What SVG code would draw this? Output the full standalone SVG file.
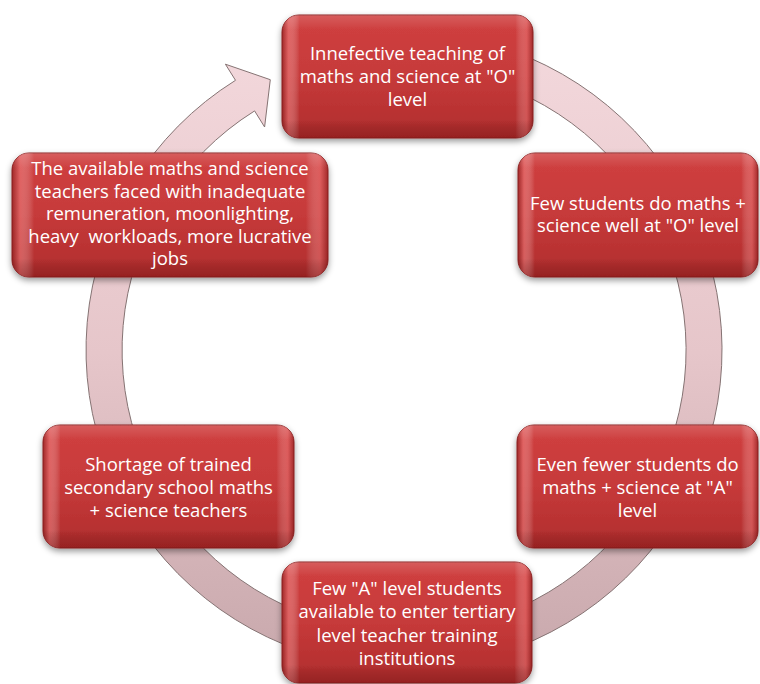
<svg xmlns="http://www.w3.org/2000/svg" width="760" height="684" viewBox="0 0 760 684">
<style>
  .box { fill: url(#boxFill); stroke: #8a2020; stroke-width: 1; filter: url(#shadow); }
  .gloss { fill: url(#boxGloss); stroke: none; }
  .top { fill: url(#boxTop); stroke: none; }
  .lbl { font-family: "Open Sans", "Liberation Sans", sans-serif; font-size: 18.5px; fill: #ffffff; text-anchor: middle; white-space: pre; }
  .ring { fill: url(#ringFill); stroke: #857373; stroke-width: 1; }
</style>
<defs>
  <linearGradient id="ringFill" x1="0" y1="0" x2="0" y2="1">
    <stop offset="0" stop-color="#f3d8dc"/>
    <stop offset="0.5" stop-color="#e6c6ca"/>
    <stop offset="1" stop-color="#c8a8ac"/>
  </linearGradient>
  <linearGradient id="boxFill" x1="0" y1="0" x2="0" y2="1">
    <stop offset="0" stop-color="#d04040"/>
    <stop offset="0.5" stop-color="#c63a3a"/>
    <stop offset="1" stop-color="#b02c2c"/>
  </linearGradient>
  <linearGradient id="boxGloss" x1="0" y1="0" x2="1" y2="0">
    <stop offset="0" stop-color="#7a1515" stop-opacity="0.5"/>
    <stop offset="0.025" stop-color="#f08080" stop-opacity="0.55"/>
    <stop offset="0.07" stop-color="#ffffff" stop-opacity="0"/>
    <stop offset="0.93" stop-color="#ffffff" stop-opacity="0"/>
    <stop offset="0.975" stop-color="#f08080" stop-opacity="0.45"/>
    <stop offset="1" stop-color="#7a1515" stop-opacity="0.5"/>
  </linearGradient>
  <linearGradient id="boxTop" x1="0" y1="0" x2="0" y2="1">
    <stop offset="0" stop-color="#ffffff" stop-opacity="0.15"/>
    <stop offset="0.12" stop-color="#ffffff" stop-opacity="0"/>
    <stop offset="0.85" stop-color="#000000" stop-opacity="0"/>
    <stop offset="1" stop-color="#500000" stop-opacity="0.25"/>
  </linearGradient>
  <filter id="shadow" x="-10%" y="-10%" width="120%" height="130%">
    <feDropShadow dx="0" dy="3" stdDeviation="3" flood-color="#000000" flood-opacity="0.4"/>
  </filter>
</defs>

<g id="connectors">
  <path class="ring" d="M 459.2 36.8 A 318 318 0 1 1 235.5 80.3 L 225.4 64.2 L 270.3 79.7 L 264.6 127.0 L 254.6 110.9 A 282 282 0 1 0 453.0 72.3 Z"/>
</g>

<g id="node1">
  <rect class="box" x="282" y="15" width="251" height="123" rx="17"/>
  <rect class="gloss" x="282" y="15" width="251" height="123" rx="17"/>
  <rect class="top" x="282" y="15" width="251" height="123" rx="17"/>
  <text class="lbl" x="407.5" y="60">Innefective teaching of</text>
  <text class="lbl" x="407.5" y="83">maths and science at "O"</text>
  <text class="lbl" x="407.5" y="106">level</text>
</g>

<g id="node2">
  <rect class="box" x="518" y="153" width="240" height="124" rx="17"/>
  <rect class="gloss" x="518" y="153" width="240" height="124" rx="17"/>
  <rect class="top" x="518" y="153" width="240" height="124" rx="17"/>
  <text class="lbl" x="638" y="210">Few students do maths +</text>
  <text class="lbl" x="638" y="232">science well at "O" level</text>
</g>

<g id="node3">
  <rect class="box" x="517" y="425" width="241" height="123" rx="17"/>
  <rect class="gloss" x="517" y="425" width="241" height="123" rx="17"/>
  <rect class="top" x="517" y="425" width="241" height="123" rx="17"/>
  <text class="lbl" x="637.5" y="471">Even fewer students do</text>
  <text class="lbl" x="637.5" y="494">maths + science at "A"</text>
  <text class="lbl" x="637.5" y="517">level</text>
</g>

<g id="node4">
  <rect class="box" x="282" y="562" width="250" height="121" rx="17"/>
  <rect class="gloss" x="282" y="562" width="250" height="121" rx="17"/>
  <rect class="top" x="282" y="562" width="250" height="121" rx="17"/>
  <text class="lbl" x="407" y="595">Few "A" level students</text>
  <text class="lbl" x="407" y="618">available to enter tertiary</text>
  <text class="lbl" x="407" y="642">level teacher training</text>
  <text class="lbl" x="407" y="665">institutions</text>
</g>

<g id="node5">
  <rect class="box" x="43" y="425" width="251" height="123" rx="17"/>
  <rect class="gloss" x="43" y="425" width="251" height="123" rx="17"/>
  <rect class="top" x="43" y="425" width="251" height="123" rx="17"/>
  <text class="lbl" x="168.5" y="471">Shortage of trained</text>
  <text class="lbl" x="168.5" y="494">secondary school maths</text>
  <text class="lbl" x="168.5" y="517">+ science teachers</text>
</g>

<g id="node6">
  <rect class="box" x="12" y="153" width="316" height="124" rx="17"/>
  <rect class="gloss" x="12" y="153" width="316" height="124" rx="17"/>
  <rect class="top" x="12" y="153" width="316" height="124" rx="17"/>
  <text class="lbl" x="170" y="175">The available maths and science</text>
  <text class="lbl" x="170" y="197.5">teachers faced with inadequate</text>
  <text class="lbl" x="170" y="220">remuneration, moonlighting,</text>
  <text class="lbl" x="170" y="242.5">heavy  workloads, more lucrative</text>
  <text class="lbl" x="170" y="265">jobs</text>
</g>
</svg>
